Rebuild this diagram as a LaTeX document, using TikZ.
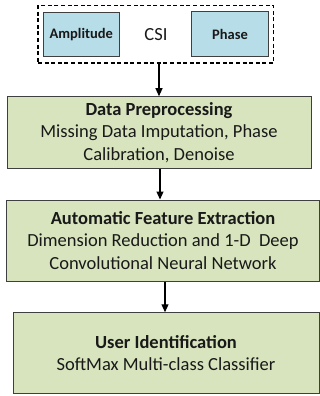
\documentclass[tikz,border=0pt]{standalone}
\usepackage{fontspec}
\setmainfont{Carlito}
\usetikzlibrary{arrows.meta}
\definecolor{csiblue}{HTML}{B7DDE8}
\definecolor{stagegreen}{HTML}{D7E4BD}
\definecolor{edgegray}{HTML}{3F3F3F}
\begin{document}
\begin{tikzpicture}[x=1pt,y=-1pt,
  stagebox/.style={draw=edgegray, line width=1pt, fill=stagegreen, align=center, inner sep=0pt, text=black!90, font=\fontsize{18.5}{22.5}\selectfont},
  partbox/.style={draw=edgegray, line width=1pt, fill=csiblue, inner sep=0pt, text=black!90, font=\fontsize{14.5}{17}\selectfont\bfseries},
  groupbox/.style={draw=black, line width=1.2pt, dash pattern=on 4pt off 2.6pt, inner sep=0pt},
  flow/.style={line width=1.2pt, -{Triangle[length=8pt,width=7pt]}}]
\useasboundingbox (0,0) rectangle (320,396);
\node[groupbox, minimum width=235.5pt, minimum height=57.5pt] (csi) at (155.75,34.25) {};
\node[partbox, minimum width=76pt, minimum height=44.4pt] (amp) at (81.3,34.5) {Amplitude};
\node[partbox, minimum width=76.6pt, minimum height=45pt] (phase) at (230,34.5) {Phase};
\node[font=\fontsize{18.5}{22}\selectfont, text=black!90, inner sep=0pt] (csilabel) at (156,35) {CSI};
\node[stagebox, minimum width=304pt, minimum height=71.6pt] (dp) at (159,132.5)
  {\textbf{Data Preprocessing}\\Missing Data Imputation, Phase\\Calibration, Denoise};
\node[stagebox, minimum width=312.6pt, minimum height=81pt] (afe) at (163,240.5)
  {\textbf{Automatic Feature Extraction}\\Dimension Reduction and 1-D~ Deep\\Convolutional Neural Network};
\node[stagebox, minimum width=306pt, minimum height=80.5pt] (uid) at (166,353)
  {\textbf{User Identification}\\SoftMax Multi-class Classifier};
\draw[flow] (dp.north |- csi.south) -- (dp.north);
\draw[flow] ([xshift=1pt]dp.south) -- ([xshift=1pt]dp.south |- afe.north);
\draw[flow] ([xshift=-1pt]uid.north |- afe.south) -- ([xshift=-1pt]uid.north);
\end{tikzpicture}
\end{document}
